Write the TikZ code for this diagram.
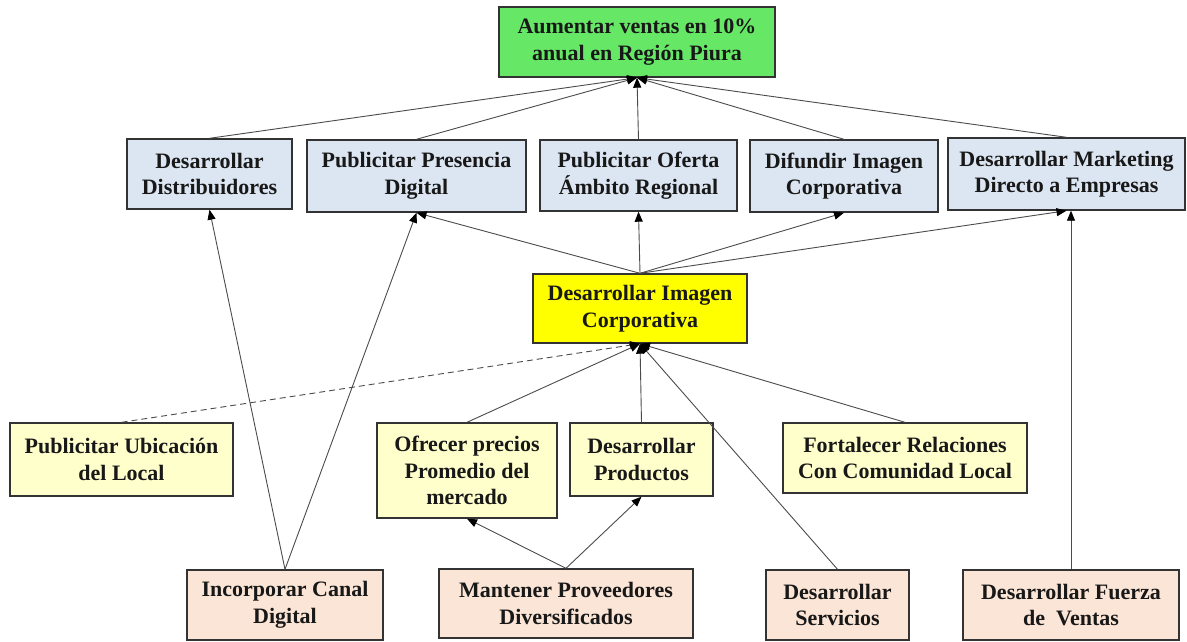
\documentclass[tikz,border=0pt]{standalone}
\usepackage{fontspec}
\setmainfont{Liberation Serif}
\usetikzlibrary{arrows.meta}
\definecolor{goalgreen}{RGB}{102,232,102}
\definecolor{bluebox}{RGB}{220,230,242}
\definecolor{brightyellow}{RGB}{255,255,0}
\definecolor{paleyellow}{RGB}{255,255,204}
\definecolor{peach}{RGB}{251,229,214}
\definecolor{txt}{RGB}{24,24,24}
\definecolor{edgegray}{RGB}{75,75,75}
\tikzset{
  box/.style={draw=black!80, line width=1.4pt, align=center, inner sep=2pt,
    text=txt, font=\bfseries\fontsize{22}{26.5}\selectfont},
  goalbox/.style={box, fill=goalgreen},
  bluebx/.style={box, fill=bluebox},
  ybox/.style={box, fill=brightyellow},
  pybox/.style={box, fill=paleyellow},
  pchbox/.style={box, fill=peach},
  link/.style={draw=edgegray, line width=0.9pt, -{Triangle[length=10pt,width=8pt,color=black]}},
}
\begin{document}
\begin{tikzpicture}[x=1pt,y=-1pt]
\useasboundingbox (0,0) rectangle (1187,642);
% top goal
\node[goalbox, minimum width=276pt, minimum height=70pt] (goal) at (637,42) {Aumentar ventas en 10\%\\anual en Región Piura};
% row 2
\node[bluebx, minimum width=165pt, minimum height=70pt] (dist) at (209.5,174) {Desarrollar\\Distribuidores};
\node[bluebx, minimum width=219pt, minimum height=72pt] (pres) at (416.5,176) {Publicitar Presencia\\Digital};
\node[bluebx, minimum width=197pt, minimum height=71pt] (ofer) at (638.5,175.5) {Publicitar Oferta\\Ámbito Regional};
\node[bluebx, minimum width=188pt, minimum height=72pt] (difu) at (844,176) {Difundir Imagen\\Corporativa};
\node[bluebx, minimum width=237pt, minimum height=72pt] (mark) at (1066.5,174) {Desarrollar Marketing\\Directo a Empresas};
% center
\node[ybox, minimum width=214pt, minimum height=69pt] (imag) at (640,308.5) {Desarrollar Imagen\\Corporativa};
% row 4
\node[pybox, minimum width=223pt, minimum height=73pt] (ubic) at (121.5,459.5) {Publicitar Ubicación\\del Local};
\node[pybox, minimum width=180pt, minimum height=95pt] (ofre) at (467,470.5) {Ofrecer precios\\Promedio del\\mercado};
\node[pybox, minimum width=143pt, minimum height=73pt] (prod) at (641.5,459.5) {Desarrollar\\Productos};
\node[pybox, minimum width=244pt, minimum height=70pt] (fort) at (905,458) {Fortalecer Relaciones\\Con Comunidad Local};
% row 5
\node[pchbox, minimum width=196pt, minimum height=70pt] (inco) at (285,605) {Incorporar Canal\\Digital};
\node[pchbox, minimum width=254pt, minimum height=69pt] (mant) at (566,603.5) {Mantener Proveedores\\Diversificados};
\node[pchbox, minimum width=143pt, minimum height=70pt] (serv) at (837.5,605) {Desarrollar\\Servicios};
\node[pchbox, minimum width=216pt, minimum height=70pt] (fuer) at (1071,605) {Desarrollar Fuerza\\de~~Ventas};
% row 2 -> goal
\foreach \s in {dist,pres,ofer,difu,mark}
  \draw[link] (\s.north) -- (goal.south);
% imagen -> row 2
\foreach \t in {pres,ofer,difu,mark}
  \draw[link] (imag.north) -- (\t.south);
% incorporar -> row 2
\draw[link] (inco.north) -- (dist.south);
\draw[link] (inco.north) -- (pres.south);
% row 4 -> imagen
\draw[link, dashed, dash pattern=on 6pt off 4pt] (ubic.north) -- (imag.south);
\foreach \s in {ofre,prod,fort,serv}
  \draw[link] (\s.north) -- (imag.south);
% mantener -> row 4
\draw[link] (mant.north) -- (ofre.south);
\draw[link] (mant.north) -- (prod.south);
% fuerza -> marketing
\draw[link] (fuer.north) -- (fuer.north |- mark.south);
\end{tikzpicture}
\end{document}
